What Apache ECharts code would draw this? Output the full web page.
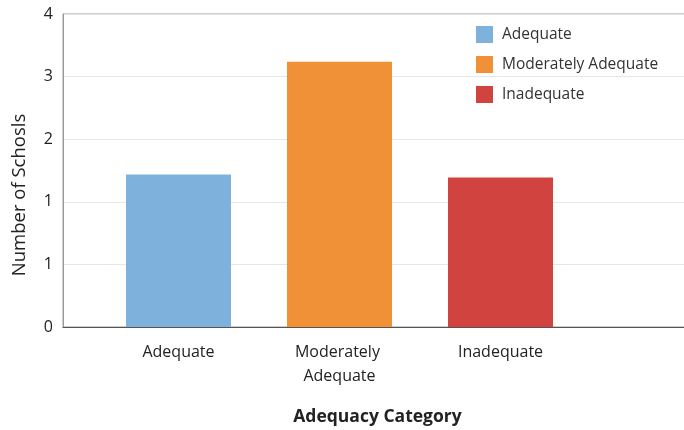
<!DOCTYPE html>
<html>
<head>
<meta charset="utf-8">
<script src="https://cdn.jsdelivr.net/npm/echarts@6/dist/echarts.min.js"></script>
<style>
  html, body { margin: 0; padding: 0; background: #ffffff; }
  #chart { width: 684px; height: 430px; }
</style>
</head>
<body>
<div id="chart"></div>
<script>
// Categories and counts
const categories = ['Adequate', 'Moderately Adequate', 'Inadequate'];
const adequateValues = [1.95, '-', '-'];
const moderateValues = ['-', 3.39, '-'];
const inadequateValues = ['-', '-', 1.91];
// Tick labels as printed on the vertical axis (bottom to top)
const yTickLabels = ['0', '1', '1', '2', '3', '4'];

const colors = {
  adequate: '#7fb1dd',
  moderate: '#f09138',
  inadequate: '#d0433e'
};

const FONT = '"Open Sans", "Noto Sans", sans-serif';

const chart = echarts.init(document.getElementById('chart'), null, { renderer: 'canvas' });

function barSeries(name, data, color) {
  return {
    name: name,
    type: 'bar',
    xAxisIndex: 1,
    yAxisIndex: 1,
    data: data,
    barWidth: 105,
    barGap: '-100%',
    itemStyle: { color: color },
    emphasis: { disabled: true }
  };
}

chart.setOption({
  animation: false,
  backgroundColor: '#ffffff',
  legend: {
    left: 471,
    top: 21,
    orient: 'vertical',
    itemWidth: 17,
    itemHeight: 17,
    itemGap: 13,
    icon: 'rect',
    textStyle: { fontFamily: FONT, fontSize: 15.5, color: '#333', padding: [0, 0, 0, 4] },
    data: ['Adequate', 'Moderately Adequate', 'Inadequate']
  },
  grid: [
    // frame, gridlines and axis titles
    { left: 63, right: -8, top: 14, bottom: 103, show: true, borderColor: '#9a9a9a', borderWidth: 1, outerBoundsMode: 'none', containLabel: false },
    // bars and category labels
    { left: 98, width: 483, top: 14, bottom: 103, outerBoundsMode: 'none', containLabel: false }
  ],
  xAxis: [
    {
      gridIndex: 0,
      type: 'category',
      data: [''],
      axisLine: { show: true, lineStyle: { color: '#555', width: 1.2 } },
      axisTick: { show: false },
      axisLabel: { show: false },
      name: 'Adequacy Category',
      nameLocation: 'middle',
      nameGap: 81,
      nameTextStyle: { fontFamily: FONT, fontSize: 17.5, fontWeight: 'bold', color: '#222' }
    },
    {
      gridIndex: 1,
      type: 'category',
      data: categories,
      axisLine: { show: false },
      axisTick: { show: false },
      axisLabel: {
        margin: 13,
        fontFamily: FONT,
        fontSize: 16,
        color: '#222',
        lineHeight: 24,
        width: 120,
        overflow: 'break',
        interval: 0
      }
    }
  ],
  yAxis: [
    {
      gridIndex: 0,
      type: 'value',
      min: 0,
      max: 4,
      interval: 0.8,
      axisLine: { show: true, lineStyle: { color: '#9a9a9a' } },
      axisTick: { show: false },
      splitLine: { show: true, lineStyle: { color: '#e6e6e6', width: 1 } },
      axisLabel: {
        margin: 10,
        fontFamily: FONT,
        fontSize: 16,
        color: '#222',
        formatter: function (v) {
          const i = Math.round(v / 0.8);
          return yTickLabels[i] !== undefined ? yTickLabels[i] : '';
        }
      },
      name: 'Number of Schosls',
      nameLocation: 'middle',
      nameGap: 34,
      nameTextStyle: { fontFamily: FONT, fontSize: 18.5, color: '#222', padding: [0, 49, 0, 0] }
    },
    {
      gridIndex: 1,
      type: 'value',
      min: 0,
      max: 4,
      interval: 0.8,
      show: false
    }
  ],
  series: [
    barSeries('Adequate', adequateValues, colors.adequate),
    barSeries('Moderately Adequate', moderateValues, colors.moderate),
    barSeries('Inadequate', inadequateValues, colors.inadequate)
  ]
});
</script>
</body>
</html>
